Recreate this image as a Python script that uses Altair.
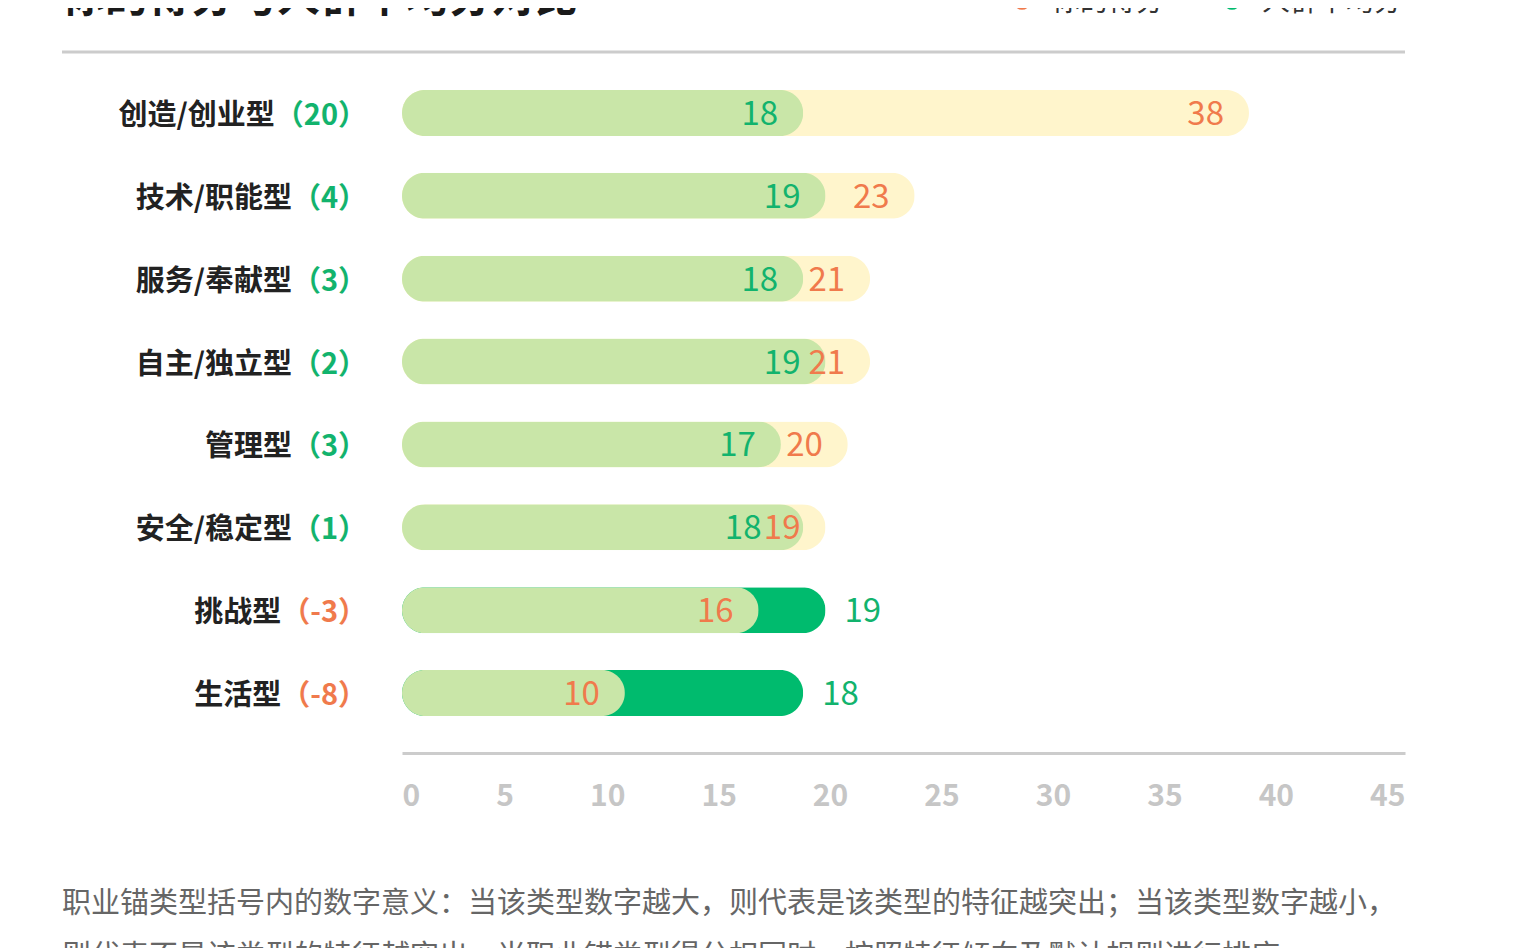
import altair as alt
import pandas as pd

# 职业锚类型，你的得分，人群平均分
categories = ["创造/创业型", "技术/职能型", "服务/奉献型", "自主/独立型",
              "管理型", "安全/稳定型", "挑战型", "生活型"]
my_scores = [38, 23, 21, 21, 20, 19, 16, 10]
avg_scores = [18, 19, 18, 19, 17, 18, 19, 18]
x_ticks = [0, 5, 10, 15, 20, 25, 30, 35, 40, 45]

title_text = "你的得分与人群平均分对比"
legend_names = ["你的得分", "人群平均分"]
note_lines = [
    "职业锚类型括号内的数字意义：当该类型数字越大，则代表是该类型的特征越突出；当该类型数字越小，",
    "则代表不是该类型的特征越突出，当职业锚类型得分相同时，按照特征倾向及默认规则进行排序",
]

FONT = "Noto Sans CJK SC"
ORANGE = "#f07a4c"
GREEN = "#12b36d"
LIGHT = "#c9e6a8"
YELLOW = "#fff5cc"
DARK = "#00bb6e"

df = pd.DataFrame({"cat": categories, "me": my_scores, "avg": avg_scores})
df["diff"] = df["me"] - df["avg"]
df["paren"] = "（" + df["diff"].astype(str) + "）"
df["full"] = df["cat"] + df["paren"]
df["paren_color"] = [GREEN if d >= 0 else ORANGE for d in df["diff"]]
df["front"] = df[["me", "avg"]].min(axis=1)
df["back"] = df[["me", "avg"]].max(axis=1)
df["mine_ahead"] = df["me"] > df["avg"]
df["front_color"] = [GREEN if m else ORANGE for m in df["mine_ahead"]]
df["back_fill"] = [YELLOW if m else DARK for m in df["mine_ahead"]]
# 两个数字挤在一起时，把前面的数字往左让一点
df["front_pos"] = [min(f, b - 1.75) if m else f
                   for f, b, m in zip(df["front"], df["back"], df["mine_ahead"])]

W, H = 1003, 663
y_enc = alt.Y("cat:N", sort=categories, axis=None,
              scale=alt.Scale(paddingInner=0, paddingOuter=0))
base = alt.Chart(df).encode(y=y_enc)

back_bar = base.mark_bar(height=46, cornerRadius=23).encode(
    x=alt.X("back:Q", scale=alt.Scale(domain=[0, 45], nice=False),
            axis=alt.Axis(values=x_ticks, title=None, grid=False, ticks=False,
                          domainColor="#cccccc", domainWidth=3, offset=18.5,
                          labelFont=FONT, labelFontSize=30, labelFontWeight="bold",
                          labelColor="#c6c6c6", labelPadding=28,
                          labelAlign={"expr": "datum.value == 0 ? 'left' : 'right'"},
                          labelBound=False, labelOverlap=False, labelFlush=False)),
    color=alt.Color("back_fill:N", scale=None),
)
front_bar = base.mark_bar(height=46, cornerRadius=23, color=LIGHT).encode(x="front:Q")

txt = dict(font=FONT, fontSize=33, baseline="middle", dy=2)
front_lbl = base.mark_text(align="right", dx=-25, **txt).encode(
    x="front_pos:Q", text="front:Q", color=alt.Color("front_color:N", scale=None))
back_in = base.mark_text(align="right", dx=-25, color=ORANGE, **txt).encode(
    x="back:Q", text="back:Q").transform_filter("datum.mine_ahead")
back_out = base.mark_text(align="left", dx=19, color=GREEN, **txt).encode(
    x="back:Q", text="back:Q").transform_filter("!datum.mine_ahead")

lab = dict(font=FONT, fontSize=29, fontWeight="bold", baseline="middle",
           align="right", dy=3)
name_lbl = base.mark_text(color="#222222", **lab).encode(x=alt.value(-35), text="full:N")
paren_mask = base.mark_text(color="white", stroke="white", strokeWidth=1.5, **lab).encode(
    x=alt.value(-35), text="paren:N")
paren_lbl = base.mark_text(**lab).encode(
    x=alt.value(-35), text="paren:N", color=alt.Color("paren_color:N", scale=None))

top_rule = alt.Chart(df.head(1)).mark_rule(color="#cccccc", strokeWidth=3).encode(
    x=alt.value(-340), x2=alt.value(W), y=alt.value(-19.5))

title = alt.Chart(pd.DataFrame({"t": [title_text]})).mark_text(
    font=FONT, fontSize=43, fontWeight="bold", color="#1a1a1a",
    align="left", baseline="alphabetic").encode(
    x=alt.value(-340), y=alt.value(-60), text="t:N")

leg_df = pd.DataFrame({"name": legend_names, "c": [ORANGE, DARK],
                       "px": [620, 830]})
leg_dot = alt.Chart(leg_df).mark_point(filled=True, size=280, opacity=1).encode(
    x=alt.X("px:Q", scale=None), y=alt.value(-70),
    color=alt.Color("c:N", scale=None))
leg_txt = alt.Chart(leg_df).mark_text(
    font=FONT, fontSize=28, color="#333333", align="left", baseline="middle",
    dx=30).encode(x=alt.X("px:Q", scale=None), y=alt.value(-69), text="name:N")

note_df = pd.DataFrame({"line": note_lines, "py": [832.5, 885.5]})
note = alt.Chart(note_df).mark_text(
    font=FONT, fontSize=29, color="#666666", align="left", baseline="middle").encode(
    x=alt.value(-340), y=alt.Y("py:Q", scale=None), text="line:N")

chart = alt.layer(
    top_rule, title, leg_dot, leg_txt,
    back_bar, front_bar, front_lbl, back_in, back_out,
    name_lbl, paren_mask, paren_lbl, note,
).resolve_scale(color="independent").properties(
    width=W, height=H,
    autosize=alt.AutoSizeParams(type="none"),
    padding={"left": 394, "top": 63.5, "right": 100, "bottom": 213.5},
    background="white",
).configure_view(stroke=None)

chart.save("out.html", embed_options={"renderer": "svg", "actions": False})
